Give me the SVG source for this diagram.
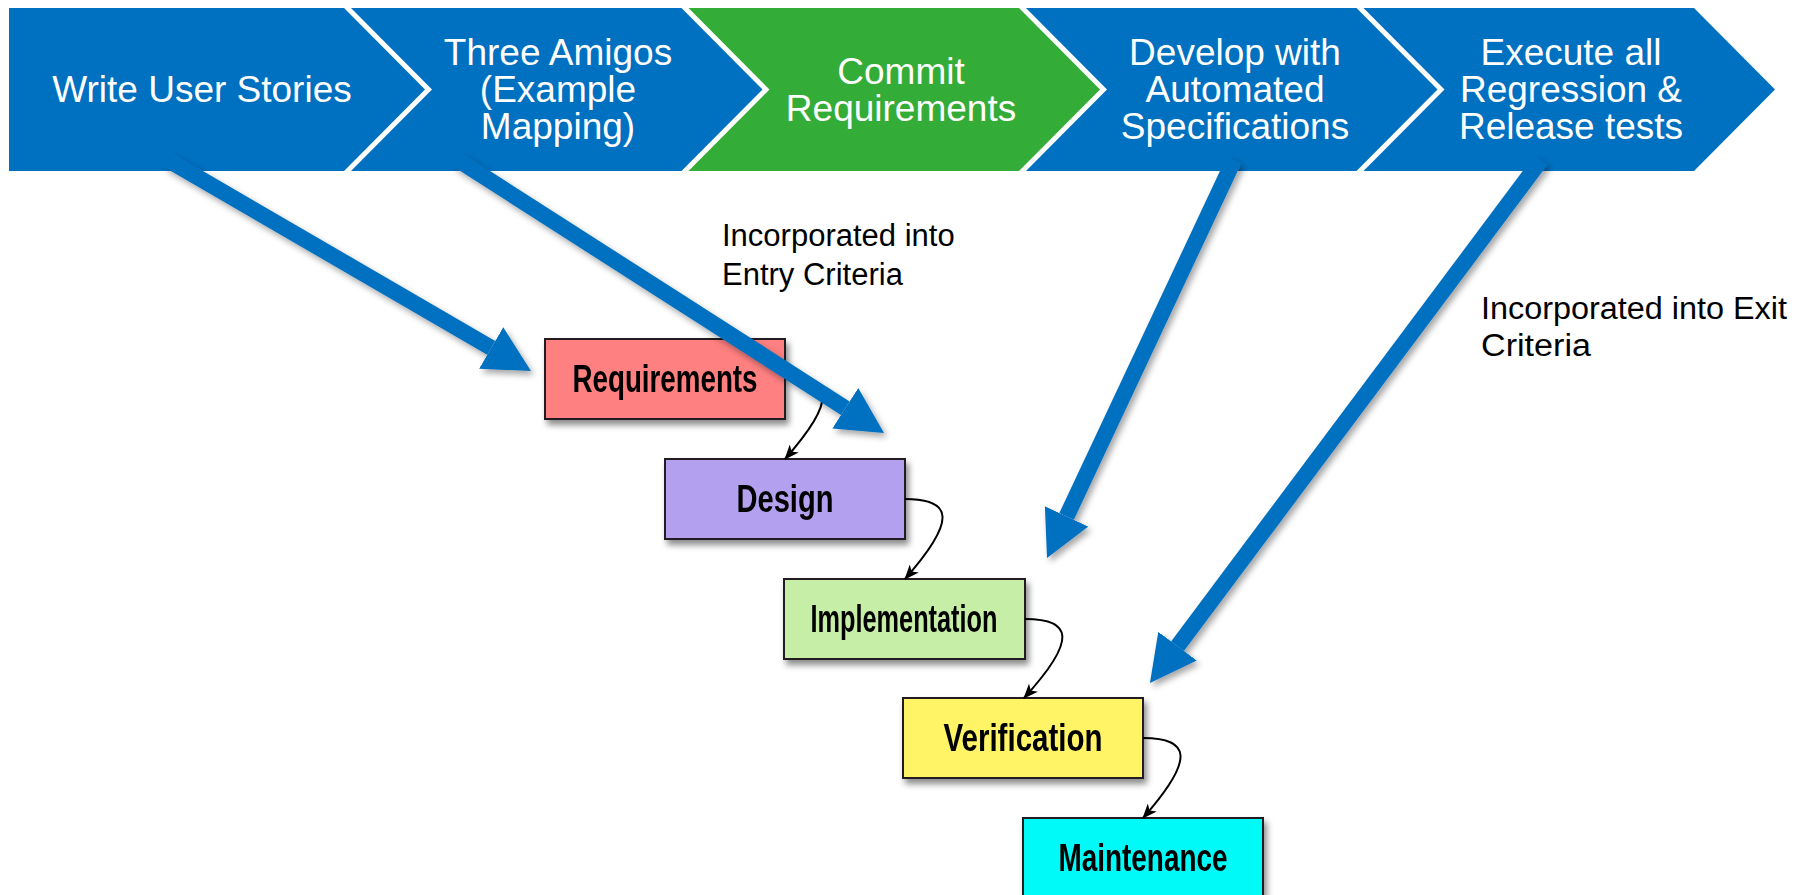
<svg xmlns="http://www.w3.org/2000/svg" width="1796" height="895" viewBox="0 0 1796 895">
<style>
.blue{fill:#0070C0}
.green{fill:#33AC38}
.ct{font-family:"Liberation Sans",Arial,sans-serif;font-size:37px;fill:#fff;text-anchor:middle}
.note{font-family:"Liberation Sans",Arial,sans-serif;font-size:31px;fill:#000}
.box{stroke:#231f20;stroke-width:2}
.bl{font-family:"Liberation Sans",Arial,sans-serif;font-size:38px;font-weight:bold;fill:#000;text-anchor:middle}
.conn{fill:none;stroke:#000;stroke-width:2}
.big{stroke:#0070C0;stroke-width:16;fill:none}
</style>
<defs>
<filter id="sh" x="-20%" y="-20%" width="150%" height="160%">
<feDropShadow dx="3" dy="5" stdDeviation="3" flood-color="#000" flood-opacity="0.45"/>
</filter>
<filter id="ash" x="-20%" y="-20%" width="150%" height="150%">
<feDropShadow dx="3" dy="4" stdDeviation="3" flood-color="#000" flood-opacity="0.35"/>
</filter>
<marker id="bh" markerUnits="userSpaceOnUse" viewBox="0 0 46 48" markerWidth="46" markerHeight="48" refX="0" refY="24" orient="auto">
<path d="M0,0 L46,24 L0,48 Z" fill="#0070C0"/>
</marker>
<marker id="kh" markerUnits="userSpaceOnUse" viewBox="0 0 15 12" markerWidth="15" markerHeight="12" refX="14" refY="6" orient="auto">
<path d="M0,0 L15,6 L0,12 L4,6 Z" fill="#000"/>
</marker>
</defs>
<rect width="1796" height="895" fill="#fff"/>

<g id="step1">
<polygon class="blue" points="9,8 344,8 425,89.5 344,171 9,171"/>
<text class="ct" x="202" y="102">Write User Stories</text>
</g>
<g id="step2">
<polygon class="blue" points="351,8 681.5,8 762.5,89.5 681.5,171 351,171 432,89.5"/>
<text class="ct" x="558" y="64.5">Three Amigos</text>
<text class="ct" x="558" y="102">(Example</text>
<text class="ct" x="558" y="139">Mapping)</text>
</g>
<g id="step3">
<polygon class="green" points="688.5,8 1019,8 1100,89.5 1019,171 688.5,171 769.5,89.5"/>
<text class="ct" x="901" y="84">Commit</text>
<text class="ct" x="901" y="121">Requirements</text>
</g>
<g id="step4">
<polygon class="blue" points="1026,8 1356.5,8 1437.5,89.5 1356.5,171 1026,171 1107,89.5"/>
<text class="ct" x="1235" y="64.5">Develop with</text>
<text class="ct" x="1235" y="102">Automated</text>
<text class="ct" x="1235" y="139">Specifications</text>
</g>
<g id="step5">
<polygon class="blue" points="1363.5,8 1694,8 1775,89.5 1694,171 1363.5,171 1444.5,89.5"/>
<text class="ct" x="1571" y="64.5">Execute all</text>
<text class="ct" x="1571" y="102">Regression &amp;</text>
<text class="ct" x="1571" y="139">Release tests</text>
</g>

<g id="note-entry">
<text class="note" x="722" y="246">Incorporated into</text>
<text class="note" x="722" y="285">Entry Criteria</text>
</g>
<g id="note-exit">
<text class="note" x="1481" y="319" font-size="33" textLength="306" lengthAdjust="spacingAndGlyphs">Incorporated into Exit</text>
<text class="note" x="1481" y="356" font-size="33" textLength="110" lengthAdjust="spacingAndGlyphs">Criteria</text>
</g>

<g id="requirements" filter="url(#sh)">
<rect class="box" x="545" y="339" width="240" height="80" fill="#FF8080"/>
<text class="bl" x="665" y="392" textLength="185" lengthAdjust="spacingAndGlyphs">Requirements</text>
</g>
<g id="design" filter="url(#sh)">
<rect class="box" x="665" y="459" width="240" height="80" fill="#B3A0EE"/>
<text class="bl" x="785" y="512" textLength="97" lengthAdjust="spacingAndGlyphs">Design</text>
</g>
<g id="implementation" filter="url(#sh)">
<rect class="box" x="784" y="579" width="241" height="80" fill="#C6EEA6"/>
<text class="bl" x="904" y="632" textLength="187" lengthAdjust="spacingAndGlyphs">Implementation</text>
</g>
<g id="verification" filter="url(#sh)">
<rect class="box" x="903" y="698" width="240" height="80" fill="#FFF466"/>
<text class="bl" x="1023" y="751" textLength="159" lengthAdjust="spacingAndGlyphs">Verification</text>
</g>
<g id="maintenance" filter="url(#sh)">
<rect class="box" x="1023" y="818" width="240" height="82" fill="#00FAF7"/>
<text class="bl" x="1143" y="871" textLength="169" lengthAdjust="spacingAndGlyphs">Maintenance</text>
</g>

<g id="connectors">
<path class="conn" marker-end="url(#kh)" d="M785,379 C832,379 838,399 785,459"/>
<path class="conn" marker-end="url(#kh)" d="M905,499 C952,499 958,519 905,579"/>
<path class="conn" marker-end="url(#kh)" d="M1025,619 C1072,619 1078,639 1024,698"/>
<path class="conn" marker-end="url(#kh)" d="M1143,738 C1190,738 1196,758 1143,818"/>
</g>

<g id="big-arrows" filter="url(#ash)">
<line class="big" marker-end="url(#bh)" x1="168" y1="160" x2="491.2" y2="347.9"/>
<line class="big" marker-end="url(#bh)" x1="458" y1="160" x2="845.3" y2="408.2"/>
<line class="big" marker-end="url(#bh)" x1="1234" y1="160" x2="1066.6" y2="516.4"/>
<line class="big" marker-end="url(#bh)" x1="1541" y1="160" x2="1177.5" y2="646.2"/>
</g>
</svg>
